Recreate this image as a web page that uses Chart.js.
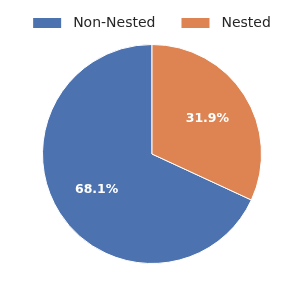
<!DOCTYPE html>
<html>
<head>
<meta charset="utf-8">
<script src="https://cdn.jsdelivr.net/npm/chart.js@4"></script>
<style>
  html, body { margin: 0; padding: 0; background: #fff; }
  #wrap { width: 304px; height: 304px; }
</style>
</head>
<body>
<div id="wrap"><canvas id="myChart" width="304" height="304"></canvas></div>
<script>
let labels = ["Non-Nested", "Nested"];
let shares = [68.1, 31.9];
let colors = ["#4c72b0", "#dd8452"];

// legend drawn by hand so it sits where the reference has it
let topLegend = {
  id: "topLegend",
  afterDraw: (chart) => {
    let c = chart.ctx;
    c.save();
    c.font = "14px 'DejaVu Sans'";
    c.textBaseline = "middle";
    let boxW = 28, boxH = 10, gap = 12, space = 26;
    let total = 0;
    labels.forEach((l, i) => {
      total += boxW + gap + c.measureText(l).width;
      if (i < labels.length - 1) total += space;
    });
    let x = (chart.width - total) / 2;
    let y = 23;
    labels.forEach((l, i) => {
      c.fillStyle = colors[i];
      c.fillRect(x, y - boxH / 2, boxW, boxH);
      x += boxW + gap;
      c.fillStyle = "#262626";
      c.fillText(l, x, y);
      x += c.measureText(l).width + space;
    });
    c.restore();
  }
};

let pctLabels = {
  id: "pctLabels",
  afterDatasetsDraw: (chart) => {
    let c = chart.ctx;
    let meta = chart.getDatasetMeta(0);
    c.save();
    c.font = "bold 12.5px 'DejaVu Sans'";
    c.fillStyle = "#fff";
    c.textAlign = "center";
    c.textBaseline = "middle";
    meta.data.forEach((arc, i) => {
      let mid = (arc.startAngle + arc.endAngle) / 2;
      let r = arc.outerRadius * 0.6;
      c.fillText(shares[i].toFixed(1) + "%", arc.x + r * Math.cos(mid), arc.y + r * Math.sin(mid));
    });
    c.restore();
  }
};

let ctx = document.getElementById("myChart");
let myPieChart = new Chart(ctx, {
  type: "pie",
  data: {
    labels: labels,
    datasets: [{
      data: shares,
      backgroundColor: colors,
      borderColor: "#fff",
      borderWidth: 1
    }]
  },
  options: {
    responsive: false,
    animation: false,
    rotation: shares[1] * 3.6,
    layout: { padding: { top: 44, bottom: 40, left: 42, right: 42 } },
    plugins: {
      legend: { display: false },
      tooltip: { enabled: false }
    }
  },
  plugins: [topLegend, pctLabels]
});
</script>
</body>
</html>
